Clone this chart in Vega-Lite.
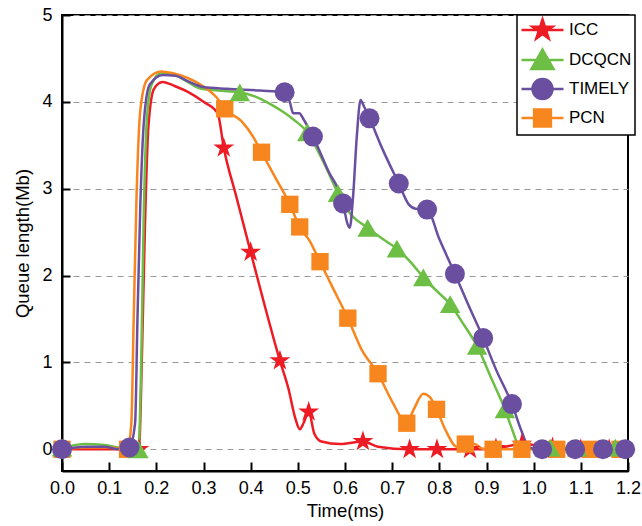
{
  "$schema": "https://vega.github.io/schema/vega-lite/v6.json",
  "autosize": "none",
  "padding": {"left": 62, "top": 15, "right": 14, "bottom": 55},
  "width": 566,
  "height": 456,
  "config": {
    "view": {"stroke": "black", "strokeWidth": 2},
    "font": "Liberation Sans",
    "axis": {"labelFont": "Liberation Sans", "titleFont": "Liberation Sans", "labelFontSize": 18, "titleFontSize": 18.5, "titleFontWeight": "normal", "labelColor": "black", "titleColor": "black", "domainColor": "black", "domainWidth": 2, "tickColor": "black", "tickWidth": 2},
    "legend": {"labelFont": "Liberation Sans", "labelFontSize": 17, "labelColor": "black"}
  },
  "data": {"values": [
    {"s":"ICC","t":0,"q":0,"m":1},{"s":"ICC","t":0.05,"q":0,"m":0},{"s":"ICC","t":0.1,"q":0,"m":0},{"s":"ICC","t":0.14,"q":0,"m":0},{"s":"ICC","t":0.163,"q":0,"m":1},{"s":"ICC","t":0.17,"q":1.2,"m":0},{"s":"ICC","t":0.176,"q":2.6,"m":0},{"s":"ICC","t":0.183,"q":3.7,"m":0},{"s":"ICC","t":0.195,"q":4.15,"m":0},{"s":"ICC","t":0.213,"q":4.23,"m":0},{"s":"ICC","t":0.24,"q":4.18,"m":0},{"s":"ICC","t":0.265,"q":4.12,"m":0},{"s":"ICC","t":0.3,"q":4.0,"m":0},{"s":"ICC","t":0.33,"q":3.87,"m":0},{"s":"ICC","t":0.343,"q":3.47,"m":1},{"s":"ICC","t":0.37,"q":2.9,"m":0},{"s":"ICC","t":0.4,"q":2.27,"m":1},{"s":"ICC","t":0.43,"q":1.65,"m":0},{"s":"ICC","t":0.462,"q":1.02,"m":1},{"s":"ICC","t":0.48,"q":0.7,"m":0},{"s":"ICC","t":0.495,"q":0.35,"m":0},{"s":"ICC","t":0.504,"q":0.23,"m":0},{"s":"ICC","t":0.512,"q":0.3,"m":0},{"s":"ICC","t":0.523,"q":0.43,"m":1},{"s":"ICC","t":0.535,"q":0.18,"m":0},{"s":"ICC","t":0.55,"q":0.09,"m":0},{"s":"ICC","t":0.59,"q":0.06,"m":0},{"s":"ICC","t":0.638,"q":0.09,"m":1},{"s":"ICC","t":0.67,"q":0.03,"m":0},{"s":"ICC","t":0.737,"q":0,"m":1},{"s":"ICC","t":0.795,"q":0,"m":1},{"s":"ICC","t":0.865,"q":0,"m":1},{"s":"ICC","t":0.92,"q":0.01,"m":1},{"s":"ICC","t":0.975,"q":0.06,"m":1},{"s":"ICC","t":1.04,"q":0.02,"m":1},{"s":"ICC","t":1.1,"q":0,"m":1},{"s":"ICC","t":1.16,"q":0,"m":1},{"s":"ICC","t":1.2,"q":0,"m":0},

    {"s":"DCQCN","t":0,"q":0.02,"m":1},{"s":"DCQCN","t":0.05,"q":0.06,"m":0},{"s":"DCQCN","t":0.09,"q":0.05,"m":0},{"s":"DCQCN","t":0.12,"q":0.02,"m":0},{"s":"DCQCN","t":0.162,"q":0.0,"m":1},{"s":"DCQCN","t":0.168,"q":1.0,"m":0},{"s":"DCQCN","t":0.173,"q":2.6,"m":0},{"s":"DCQCN","t":0.18,"q":3.8,"m":0},{"s":"DCQCN","t":0.19,"q":4.2,"m":0},{"s":"DCQCN","t":0.21,"q":4.33,"m":0},{"s":"DCQCN","t":0.23,"q":4.33,"m":0},{"s":"DCQCN","t":0.26,"q":4.25,"m":0},{"s":"DCQCN","t":0.29,"q":4.16,"m":0},{"s":"DCQCN","t":0.33,"q":4.13,"m":0},{"s":"DCQCN","t":0.377,"q":4.11,"m":1},{"s":"DCQCN","t":0.41,"q":4.06,"m":0},{"s":"DCQCN","t":0.44,"q":3.98,"m":0},{"s":"DCQCN","t":0.47,"q":3.88,"m":0},{"s":"DCQCN","t":0.49,"q":3.8,"m":0},{"s":"DCQCN","t":0.52,"q":3.65,"m":1},{"s":"DCQCN","t":0.555,"q":3.3,"m":0},{"s":"DCQCN","t":0.585,"q":2.95,"m":1},{"s":"DCQCN","t":0.61,"q":2.72,"m":0},{"s":"DCQCN","t":0.648,"q":2.55,"m":1},{"s":"DCQCN","t":0.68,"q":2.42,"m":0},{"s":"DCQCN","t":0.71,"q":2.31,"m":1},{"s":"DCQCN","t":0.74,"q":2.15,"m":0},{"s":"DCQCN","t":0.766,"q":1.98,"m":1},{"s":"DCQCN","t":0.795,"q":1.82,"m":0},{"s":"DCQCN","t":0.823,"q":1.67,"m":1},{"s":"DCQCN","t":0.85,"q":1.45,"m":0},{"s":"DCQCN","t":0.88,"q":1.19,"m":1},{"s":"DCQCN","t":0.91,"q":0.82,"m":0},{"s":"DCQCN","t":0.939,"q":0.46,"m":1},{"s":"DCQCN","t":0.955,"q":0.22,"m":0},{"s":"DCQCN","t":0.97,"q":0.02,"m":0},{"s":"DCQCN","t":0.98,"q":0,"m":0},{"s":"DCQCN","t":1.035,"q":0.02,"m":1},{"s":"DCQCN","t":1.092,"q":0.02,"m":1},{"s":"DCQCN","t":1.173,"q":0.02,"m":1},{"s":"DCQCN","t":1.2,"q":0,"m":0},

    {"s":"PCN","t":0,"q":0,"m":1},{"s":"PCN","t":0.05,"q":0.02,"m":0},{"s":"PCN","t":0.1,"q":0.02,"m":0},{"s":"PCN","t":0.139,"q":0,"m":1},{"s":"PCN","t":0.147,"q":0.3,"m":0},{"s":"PCN","t":0.152,"q":1.5,"m":0},{"s":"PCN","t":0.158,"q":2.9,"m":0},{"s":"PCN","t":0.166,"q":3.9,"m":0},{"s":"PCN","t":0.18,"q":4.25,"m":0},{"s":"PCN","t":0.211,"q":4.35,"m":0},{"s":"PCN","t":0.235,"q":4.33,"m":0},{"s":"PCN","t":0.265,"q":4.28,"m":0},{"s":"PCN","t":0.307,"q":4.15,"m":0},{"s":"PCN","t":0.328,"q":4.05,"m":0},{"s":"PCN","t":0.345,"q":3.92,"m":1},{"s":"PCN","t":0.38,"q":3.78,"m":0},{"s":"PCN","t":0.405,"q":3.6,"m":0},{"s":"PCN","t":0.423,"q":3.42,"m":1},{"s":"PCN","t":0.45,"q":3.15,"m":0},{"s":"PCN","t":0.483,"q":2.82,"m":1},{"s":"PCN","t":0.504,"q":2.56,"m":1},{"s":"PCN","t":0.525,"q":2.4,"m":0},{"s":"PCN","t":0.547,"q":2.16,"m":1},{"s":"PCN","t":0.575,"q":1.85,"m":0},{"s":"PCN","t":0.606,"q":1.51,"m":1},{"s":"PCN","t":0.635,"q":1.15,"m":0},{"s":"PCN","t":0.67,"q":0.87,"m":1},{"s":"PCN","t":0.7,"q":0.55,"m":0},{"s":"PCN","t":0.731,"q":0.3,"m":1},{"s":"PCN","t":0.745,"q":0.45,"m":0},{"s":"PCN","t":0.766,"q":0.64,"m":0},{"s":"PCN","t":0.78,"q":0.6,"m":0},{"s":"PCN","t":0.794,"q":0.46,"m":1},{"s":"PCN","t":0.815,"q":0.2,"m":0},{"s":"PCN","t":0.837,"q":0.03,"m":0},{"s":"PCN","t":0.855,"q":0.06,"m":1},{"s":"PCN","t":0.875,"q":0.06,"m":0},{"s":"PCN","t":0.89,"q":0.01,"m":0},{"s":"PCN","t":0.914,"q":0,"m":1},{"s":"PCN","t":0.975,"q":0,"m":1},{"s":"PCN","t":1.049,"q":0,"m":1},{"s":"PCN","t":1.12,"q":0,"m":1},{"s":"PCN","t":1.183,"q":0,"m":1},{"s":"PCN","t":1.2,"q":0,"m":0},

    {"s":"TIMELY","t":0,"q":0,"m":1},{"s":"TIMELY","t":0.05,"q":0.03,"m":0},{"s":"TIMELY","t":0.09,"q":0.03,"m":0},{"s":"TIMELY","t":0.12,"q":0,"m":0},{"s":"TIMELY","t":0.143,"q":0.02,"m":1},{"s":"TIMELY","t":0.155,"q":0.3,"m":0},{"s":"TIMELY","t":0.16,"q":1.5,"m":0},{"s":"TIMELY","t":0.166,"q":2.8,"m":0},{"s":"TIMELY","t":0.174,"q":3.8,"m":0},{"s":"TIMELY","t":0.186,"q":4.2,"m":0},{"s":"TIMELY","t":0.214,"q":4.31,"m":0},{"s":"TIMELY","t":0.24,"q":4.3,"m":0},{"s":"TIMELY","t":0.27,"q":4.23,"m":0},{"s":"TIMELY","t":0.3,"q":4.17,"m":0},{"s":"TIMELY","t":0.35,"q":4.15,"m":0},{"s":"TIMELY","t":0.42,"q":4.13,"m":0},{"s":"TIMELY","t":0.472,"q":4.11,"m":1},{"s":"TIMELY","t":0.483,"q":4.0,"m":0},{"s":"TIMELY","t":0.49,"q":3.87,"m":0},{"s":"TIMELY","t":0.503,"q":3.87,"m":0},{"s":"TIMELY","t":0.512,"q":3.8,"m":0},{"s":"TIMELY","t":0.532,"q":3.6,"m":1},{"s":"TIMELY","t":0.565,"q":3.2,"m":0},{"s":"TIMELY","t":0.596,"q":2.83,"m":1},{"s":"TIMELY","t":0.605,"q":2.6,"m":0},{"s":"TIMELY","t":0.61,"q":2.55,"m":0},{"s":"TIMELY","t":0.617,"q":2.9,"m":0},{"s":"TIMELY","t":0.625,"q":3.6,"m":0},{"s":"TIMELY","t":0.633,"q":4.02,"m":0},{"s":"TIMELY","t":0.64,"q":3.95,"m":0},{"s":"TIMELY","t":0.652,"q":3.81,"m":1},{"s":"TIMELY","t":0.68,"q":3.45,"m":0},{"s":"TIMELY","t":0.714,"q":3.06,"m":1},{"s":"TIMELY","t":0.735,"q":2.82,"m":0},{"s":"TIMELY","t":0.75,"q":2.77,"m":0},{"s":"TIMELY","t":0.774,"q":2.76,"m":1},{"s":"TIMELY","t":0.8,"q":2.42,"m":0},{"s":"TIMELY","t":0.833,"q":2.02,"m":1},{"s":"TIMELY","t":0.86,"q":1.68,"m":0},{"s":"TIMELY","t":0.893,"q":1.28,"m":1},{"s":"TIMELY","t":0.92,"q":0.92,"m":0},{"s":"TIMELY","t":0.954,"q":0.52,"m":1},{"s":"TIMELY","t":0.975,"q":0.2,"m":0},{"s":"TIMELY","t":0.99,"q":0.02,"m":0},{"s":"TIMELY","t":1.018,"q":0,"m":1},{"s":"TIMELY","t":1.088,"q":0,"m":1},{"s":"TIMELY","t":1.147,"q":0,"m":1},{"s":"TIMELY","t":1.194,"q":0,"m":1}
  ]},
  "encoding": {
    "x": {"field": "t", "type": "quantitative", "title": "Time(ms)",
      "scale": {"domain": [0, 1.2], "nice": false, "zero": false},
      "axis": {"values": [0,0.1,0.2,0.3,0.4,0.5,0.6,0.7,0.8,0.9,1.0,1.1,1.2], "format": ".1f", "tickSize": -9, "labelPadding": 17, "grid": false, "titlePadding": 4, "labelFlush": false, "labelOverlap": false}},
    "y": {"field": "q", "type": "quantitative", "title": "Queue length(Mb)",
      "scale": {"domain": [-0.25, 5], "nice": false, "zero": false},
      "axis": {"values": [0,0.5,1,1.5,2,2.5,3,3.5,4,4.5,5], "format": "d",
        "labelOpacity": {"condition": {"test": "datum.value % 1 !== 0", "value": 0}, "value": 1},
        "tickSize": -8, "labelPadding": 18, "labelOverlap": false,
        "tickOpacity": {"condition": {"test": "datum.value % 1 !== 0", "value": 0}, "value": 1},
        "grid": true, "gridDash": [6, 5], "gridColor": "#999999", "gridWidth": 1.2, "titlePadding": 9, "labelFlush": false}},
    "color": {"field": "s", "type": "nominal",
      "scale": {"domain": ["ICC","DCQCN","TIMELY","PCN"], "range": ["#ED1C24","#6DBE45","#6A4FA1","#F7861F"]},
      "legend": {"title": null, "orient": "none", "legendX": 455, "legendY": 0, "strokeColor": "black", "fillColor": "white", "padding": 3, "symbolSize": 330, "rowPadding": 0, "labelOffset": 25,
        "encode": {
          "symbols": {"update": {
            "shape": {"signal": "datum.value === 'ICC' ? 'M-1,0L3,0M1,-1L1.2245,-0.309L1.951,-0.309L1.363,0.118L1.588,0.809L1,0.382L0.412,0.809L0.637,0.118L0.049,-0.309L0.7755,-0.309Z' : datum.value === 'DCQCN' ? 'M-1,0L3,0M1,-1L2.05,0.85L-0.05,0.85Z' : datum.value === 'TIMELY' ? 'M-1,0L3,0M0.05,0A0.95,0.95,0,1,1,1.95,0A0.95,0.95,0,1,1,0.05,0Z' : 'M-1,0L3,0M0.2,-0.8L1.8,-0.8L1.8,0.8L0.2,0.8Z'"},
            "fill": {"scale": "color", "field": "value"},
            "stroke": {"scale": "color", "field": "value"},
            "strokeWidth": {"value": 2.5},
            "size": {"value": 441},
            "opacity": {"value": 1}
          }},
          "legend": {"update": {"strokeWidth": {"value": 1.5}}}
        }}}
  },
  "layer": [
    {"mark": {"type": "line", "interpolate": "monotone", "strokeWidth": 2.5},
     "encoding": {"detail": {"field": "s"}, "order": {"field": "t", "type": "quantitative"}}},
    {"transform": [{"filter": "datum.m == 1 && datum.s == 'ICC'"}],
     "mark": {"type": "point", "filled": true, "opacity": 1, "strokeWidth": 0, "size": 480, "shape": "M0,-1L0.2245,-0.309L0.951,-0.309L0.363,0.118L0.588,0.809L0,0.382L-0.588,0.809L-0.363,0.118L-0.951,-0.309L-0.2245,-0.309Z"}},
    {"transform": [{"filter": "datum.m == 1 && datum.s == 'PCN'"}],
     "mark": {"type": "point", "filled": true, "opacity": 1, "strokeWidth": 0, "size": 300, "shape": "square"}},
    {"transform": [{"filter": "datum.m == 1 && datum.s == 'DCQCN'"}],
     "mark": {"type": "point", "filled": true, "opacity": 1, "strokeWidth": 0, "size": 420, "shape": "triangle-up"}},
    {"transform": [{"filter": "datum.m == 1 && datum.s == 'TIMELY'"}],
     "mark": {"type": "point", "filled": true, "opacity": 1, "strokeWidth": 0, "size": 400, "shape": "circle"}}
  ]
}
